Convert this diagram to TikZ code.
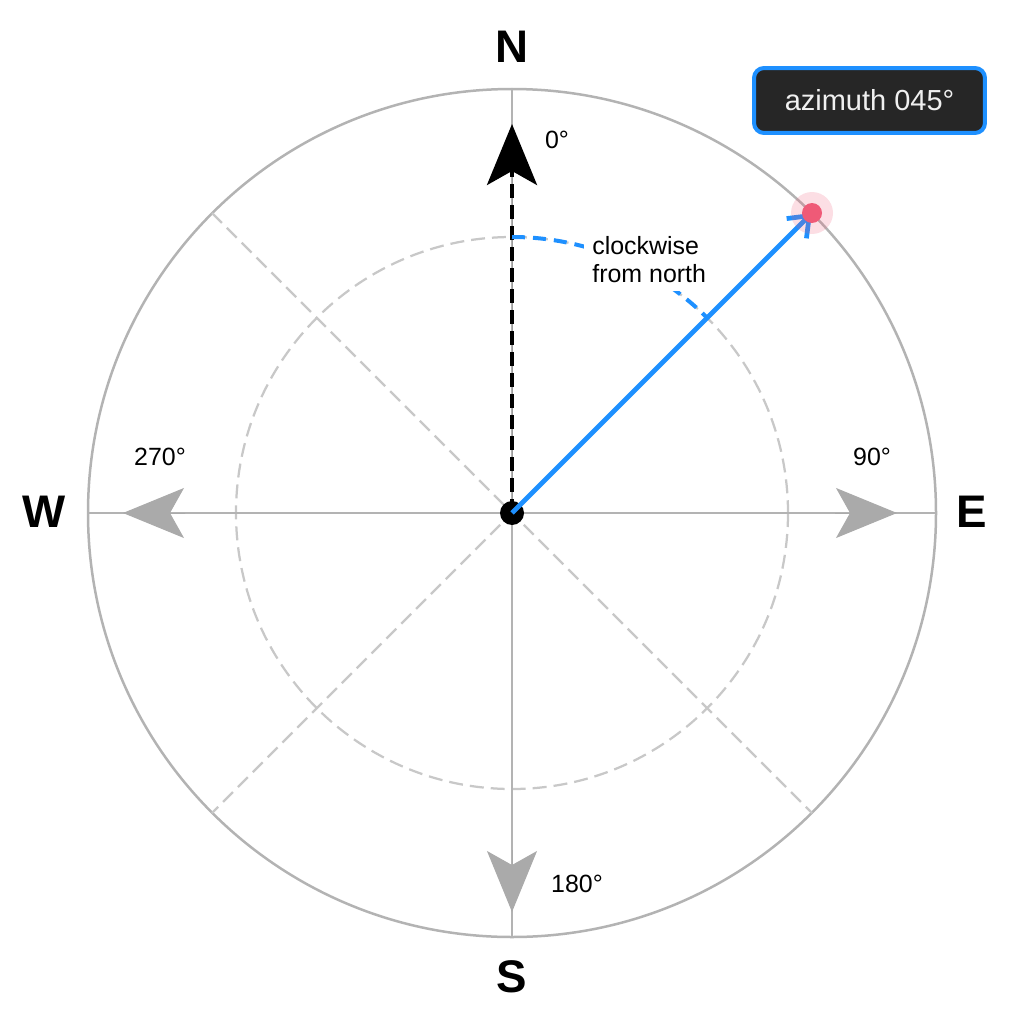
\documentclass[tikz,border=0pt]{standalone}
\usepackage{fontspec}
\setmainfont{Liberation Sans}
\usetikzlibrary{arrows.meta}
\definecolor{axisgray}{HTML}{B3B3B3}
\definecolor{diaggray}{HTML}{C8C8C8}
\definecolor{headgray}{HTML}{AAAAAA}
\definecolor{azblue}{HTML}{1E90FF}
\definecolor{ptred}{HTML}{EF5A77}
\definecolor{boxdark}{HTML}{262626}
\begin{document}
\begin{tikzpicture}[x=0.02cm,y=-0.02cm,
  axisline/.style={draw=axisgray,line width=0.05cm},
  diagline/.style={draw=diaggray,line width=0.045cm,dash pattern=on 0.28cm off 0.14cm},
  bighead/.style={-{Stealth[length=1.22cm,width=1.0cm,inset=0.28cm]}},
  grayhead/.style={bighead,draw=headgray,fill=headgray,line width=0.02cm},
  dirlabel/.style={font=\fontsize{26}{30}\selectfont\bfseries,text=black},
  deglabel/.style={font=\fontsize{14.2}{17}\selectfont,text=black},
  azbox/.style={draw=azblue,fill=boxdark,line width=0.08cm,rounded corners=0.2cm,
    minimum width=4.62cm,minimum height=1.3cm,text=white!94!black,
    font=\fontsize{16.5}{20}\selectfont},
  note/.style={fill=white,inner sep=0.16cm,align=left,
    font=\fontsize{14.2}{16}\selectfont},
  centerdot/.style={circle,fill=black,minimum size=0.48cm,inner sep=0pt},
  halo/.style={circle,fill=ptred,fill opacity=0.2,minimum size=0.84cm,inner sep=0pt},
  ptdot/.style={circle,fill=ptred,minimum size=0.4cm,inner sep=0pt}]
\useasboundingbox (0,0) rectangle (1024,1024);
\coordinate (C) at (512,513);
\coordinate (Ntop) at (512,89);
\coordinate (Sbot) at (512,937);
\coordinate (Wl) at (88,513);
\coordinate (Er) at (936,513);
\coordinate (NW) at (212,213);
\coordinate (NE) at (812,213);
\coordinate (SW) at (212,813);
\coordinate (SE) at (812,813);
% circles
\draw[axisline] (C) circle[radius=424];
\draw[diagline] (C) circle[radius=276];
% diagonals
\draw[diagline] (NW) -- (SE);
\draw[diagline] (NE) -- (SW);
% axes
\draw[axisline] (Ntop) -- (Sbot);
\draw[axisline] (Wl) -- (Er);
% gray arrow heads
\coordinate (Eb) at (835,513); \coordinate (Et) at (897,513);
\coordinate (Wb) at (185,513); \coordinate (Wt) at (123,513);
\coordinate (Sb) at (512,850); \coordinate (St) at (512,912);
\draw[grayhead] (Eb) -- (Et);
\draw[grayhead] (Wb) -- (Wt);
\draw[grayhead] (Sb) -- (St);
% north arrow
\coordinate (Nt) at (512,124);
\draw[bighead,draw=black,fill=black,line width=0.08cm,dash pattern=on 0.28cm off 0.14cm] (C) -- (Nt);
% blue arc
\draw[azblue,line width=0.08cm,dash pattern=on 0.26cm off 0.16cm] (512,237) arc[start angle=-90,end angle=-45,radius=276];
\node[note,anchor=west] (cw) at (584,260) {clockwise\\from north};
% center dot
\node[centerdot] (O) at (C) {};
% azimuth line
\draw[azblue,line width=0.095cm,-{Straight Barb[length=0.36cm,width=0.56cm]}] (O.center) -- (NE);
\node[halo] (H) at (NE) {};
\node[ptdot] (P) at (NE) {};
% labels
\node[dirlabel] (lN) at (512,47) {N};
\node[dirlabel] (lS) at (512,977) {S};
\node[dirlabel] (lW) at (44,512) {W};
\node[dirlabel] (lE) at (972,512) {E};
\node[deglabel] (d0) at (557,140) {0°};
\node[deglabel] (d90) at (872,457) {90°};
\node[deglabel] (d180) at (577,884) {180°};
\node[deglabel] (d270) at (160,457) {270°};
\node[azbox] (az) at (869.5,100.5) {azimuth 045°};
\end{tikzpicture}
\end{document}
